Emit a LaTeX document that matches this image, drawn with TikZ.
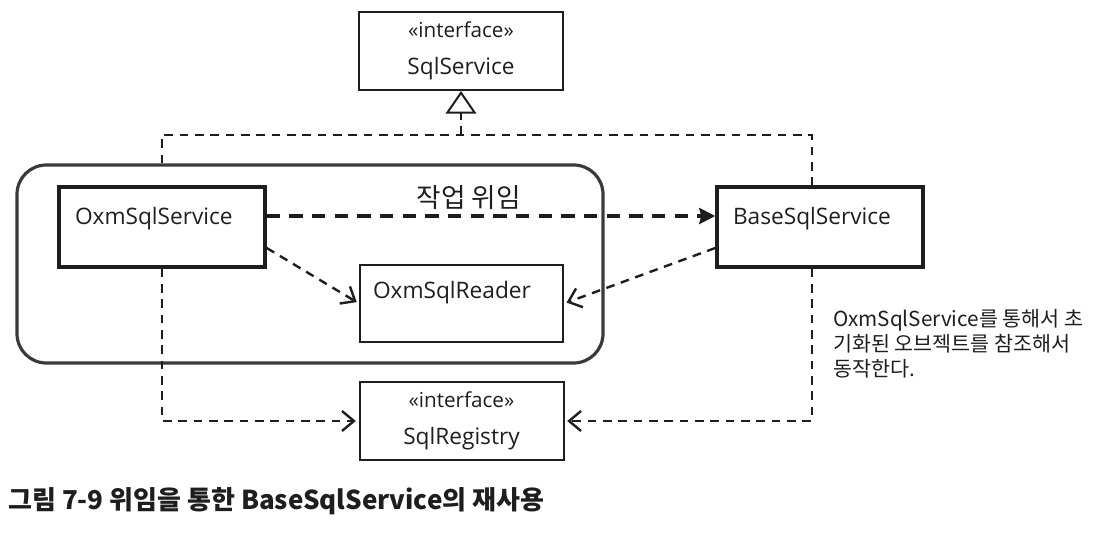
\documentclass[tikz,border=0pt]{standalone}
\usepackage{fontspec}
\setmainfont{Open Sans}
\newfontfamily\kor{Noto Sans CJK KR}
\usetikzlibrary{positioning,arrows.meta}
\definecolor{ink}{HTML}{1E1E1E}
\definecolor{frame}{HTML}{3A3A3A}

\begin{document}
\begin{tikzpicture}[x=0.75pt,y=-0.75pt,on grid,
    cls/.style={draw=ink,line width=2.6pt,inner xsep=12pt,inner ysep=0pt,
      text width=130.5pt,align=left,text height=27.75pt,text depth=32.25pt,
      font=\fontsize{17}{20}\selectfont,text=ink},
    obj/.style={cls,line width=1.5pt,inner xsep=9.75pt,text width=132.75pt,
      text height=24.75pt,text depth=33pt},
    iface/.style={draw=ink,line width=1.5pt,minimum width=153pt,minimum height=58.5pt,
      align=center,inner sep=0pt,font=\fontsize{17}{27.75}\selectfont,text=ink},
    gen/.style={draw=ink,line width=1.8pt,dash pattern=on 6.5pt off 5pt},
    dep/.style={gen,shorten >=2pt,
      -{Straight Barb[length=9pt,width=15pt,line width=1.8pt]}},
    deleg/.style={draw=ink,line width=3.5pt,dash pattern=on 10pt off 7pt,
      -{Stealth[length=12pt,width=12pt,inset=1.5pt]}}]
  \useasboundingbox (0,0) rectangle (1118,539);

  % container of the oxm module
  \node[draw=frame,line width=2.4pt,rounded corners=22pt,minimum width=439.5pt,
    minimum height=148.5pt] (module) at (310,264) {};

  \node[cls] (oxm) at (162,227) {OxmSqlService};
  \node[cls] (base) [right=493.5pt of oxm] {BaseSqlService};
  \node[obj] (reader) at (461.5,303.5) {OxmSqlReader};
  \node[iface] (sqlsvc) at (461,51)
    {{\fontsize{15.5}{27.75}\selectfont «interface»}\\SqlService};
  \node[iface] (registry) at (461.5,421)
    {{\fontsize{15.5}{27.75}\selectfont «interface»}\\SqlRegistry};

  \coordinate (bus) at (0,135);
  \coordinate (bt) at ([xshift=-6pt]base.north);
  \coordinate (bb) at ([xshift=-6pt]base.south);

  % realization
  \draw[gen] (oxm.north |- module.north) |- (bus -| bt) -- (bt);
  \draw[gen,-{Triangle[open,length=17pt,width=23pt,line width=1.5pt]}]
    (bus -| sqlsvc.south) -- (sqlsvc.south);

  % delegation and uses
  \draw[deleg] ([yshift=8.25pt]oxm.east) --
    node[pos=0.45,above=0pt,font=\kor\fontsize{20}{22}\selectfont,text=ink] (delegate) {작업 위임}
    ([yshift=8.25pt]base.west);
  \draw[dep] ([yshift=-15.75pt]oxm.east) -- (reader.west);
  \draw[dep] ([yshift=-15.75pt]base.west) -- (reader.east);
  \draw[dep] (oxm.south) |- (registry.west);
  \draw[dep] (bb) |- (registry.east);

  \node[anchor=north west,align=left,inner sep=0pt,text=ink,
    font=\kor\fontsize{15.5}{18.75}\selectfont] (note) at (833,309)
    {OxmSqlService를 통해서 초\\기화된 오브젝트를 참조해서\\동작한다.};
  \node[anchor=west,inner sep=0pt,text=ink,
    font=\kor\bfseries\fontsize{19.5}{22}\selectfont] (caption) at (8,501)
    {그림 7-9 위임을 통한 BaseSqlService의 재사용};
\end{tikzpicture}
\end{document}
